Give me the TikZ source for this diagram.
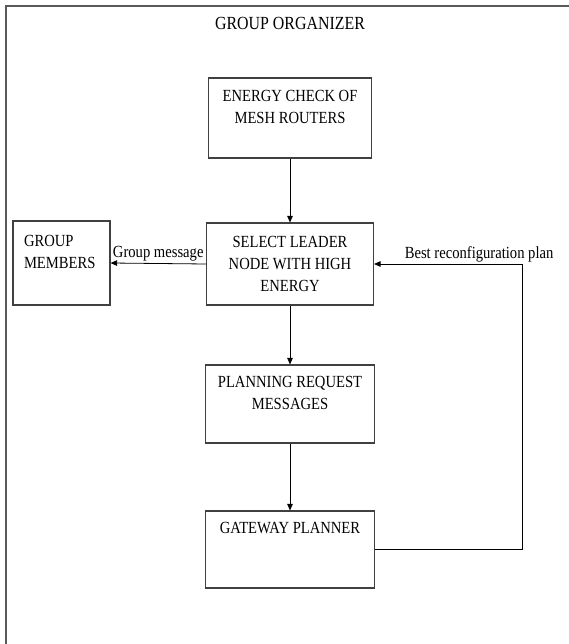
\documentclass[tikz,border=0pt]{standalone}
\usepackage{fontspec}
\setmainfont[FakeStretch=0.86]{Liberation Serif}
\usepackage{tikz}
\usetikzlibrary{arrows.meta, positioning, calc}

\begin{document}
\begin{tikzpicture}[
    x=1pt, y=-1pt,
    % Styles
    block/.style={
        rectangle,
        draw=black!75,
        line width=1.1pt,
        minimum width=#1,
        minimum height=80pt,
        inner sep=0pt,
        align=center,
        font=\fontsize{17}{22}\selectfont
    },
    block/.default=167pt,
    frame/.style={
        draw=black!65,
        line width=1.1pt
    },
    flow/.style={
        -{Triangle[length=6.5pt, width=5.5pt]},
        line width=0.8pt
    },
    lbl/.style={
        font=\fontsize{17}{20}\selectfont,
        inner sep=1.5pt
    }
]
\useasboundingbox (0,0) rectangle (569,644);

% Outer frame (open at the bottom)
\draw[frame] (6,644) -- (6,6) -- (569,6);

% Title
\node[font=\fontsize{18.5}{22}\selectfont] (title) at (290,23) {GROUP ORGANIZER};

% Blocks
\node[block=163pt] (energy) at (290,118) {ENERGY CHECK OF\\MESH ROUTERS\\\mbox{}};
\node[block, minimum height=82pt] (leader) at (290,264) {SELECT LEADER\\NODE WITH HIGH\\ENERGY};
\node[block=169pt, minimum height=78pt] (planning) at (290,404) {PLANNING REQUEST\\MESSAGES\\\mbox{}};
\node[block=169pt, minimum height=77pt] (gateway) at (290,549.5) {GATEWAY PLANNER\\\mbox{}\\\mbox{}};
\node[block=97pt, minimum height=84pt, align=left] (members) at (61.5,263) {\makebox[75pt][l]{GROUP}\\MEMBERS\\\mbox{}};

% Main flow
\draw[flow] (energy.south) -- (leader.north);
\draw[flow] (leader.south) -- (planning.north);
\draw[flow] (planning.south) -- (gateway.north);

% Group message
\draw[flow] (leader.west) -- node[lbl, above] {Group message} (members.east);

% Feedback loop
\coordinate (turn) at (522,264);
\draw[flow] (gateway.east) -| (turn) -- node[lbl, pos=0.29, above] {Best reconfiguration plan} (leader.east);

\end{tikzpicture}
\end{document}
